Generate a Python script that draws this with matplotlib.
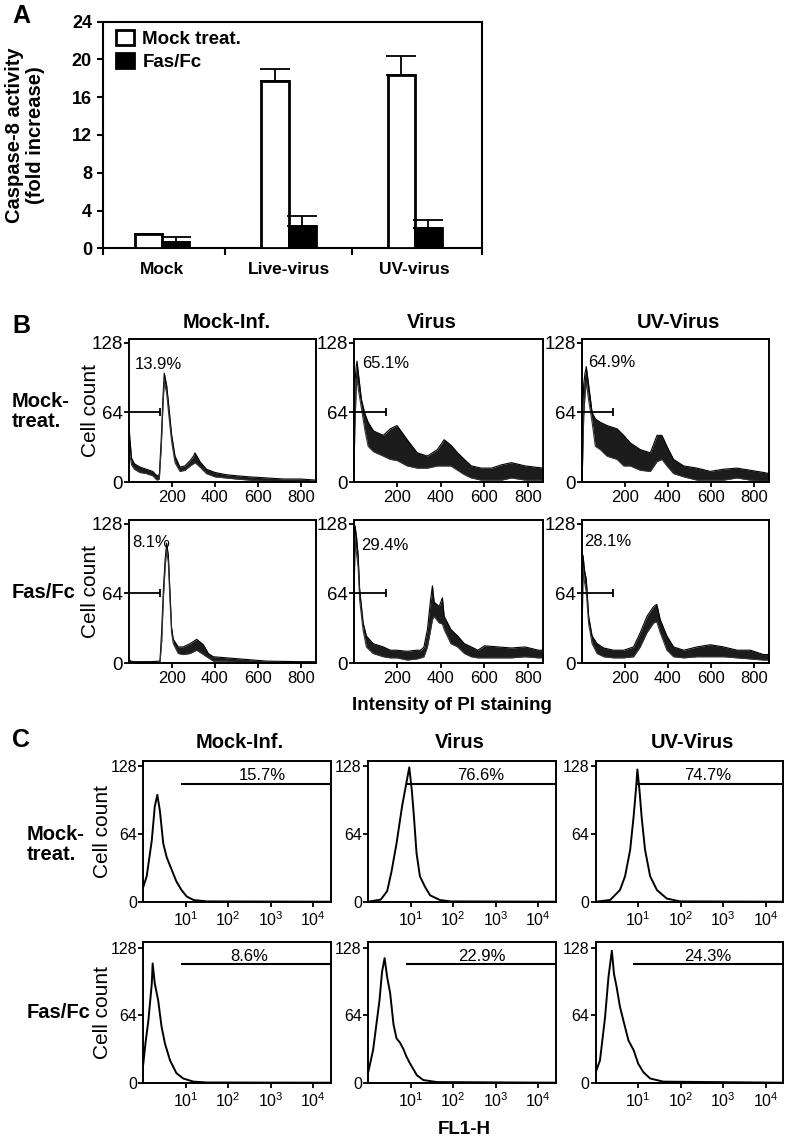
import numpy as np
import matplotlib
matplotlib.use('Agg')
import matplotlib.pyplot as plt
from matplotlib.patches import Patch

plt.rcParams['font.family'] = ['Liberation Sans', 'DejaVu Sans']
plt.rcParams['mathtext.fontset'] = 'custom'
plt.rcParams['mathtext.rm'] = 'Liberation Sans'
plt.rcParams['mathtext.it'] = 'Liberation Sans:italic'
plt.rcParams['mathtext.bf'] = 'Liberation Sans:bold'

W, H = 788, 1139

# ---------------- Panel A data ----------------
a_categories = ['Mock', 'Live-virus', 'UV-virus']
a_series = ['Mock treat.', 'Fas/Fc']
a_mock_treat = [1.48, 17.67, 18.4]
a_mock_treat_err = [0.0, 1.33, 2.0]
a_fasfc = [0.64, 2.33, 2.19]
a_fasfc_err = [0.56, 1.1, 0.81]
a_yticks = [0, 4, 8, 12, 16, 20, 24]
a_ylabel = 'Caspase-8 activity\n(fold increase)'

# ---------------- Panel B data (PI staining histograms) ----------------
b_col_titles = ['Mock-Inf.', 'Virus', 'UV-Virus']
b_row_labels = ['Mock-\ntreat.', 'Fas/Fc']
b_pct = [['13.9%', '65.1%', '64.9%'], ['8.1%', '29.4%', '28.1%']]
b_pct_pos = [[(26, 108), (37, 109), (29, 110)], [(16, 111), (33, 108), (11, 112)]]
b_xticks = [200, 400, 600, 800]
b_yticks = [0, 64, 128]
b_xlabel = 'Intensity of PI staining'

# row 1, Mock-Inf.
b11_x = [0, 4, 12, 25, 50, 80, 110, 130, 141, 150, 158, 164, 175, 185, 198, 214, 237, 260, 285, 300, 307, 330, 360, 400, 450, 500, 560, 640, 720, 800, 870]
b11_hi = [52, 40, 22, 17, 14, 12, 10, 6, 7, 40, 78, 100, 89, 70, 44, 24, 14, 15, 20, 24, 27, 19, 12, 9, 7, 6, 5, 4, 3, 3, 2]
b11_lo = [35, 25, 16, 12, 9, 8, 6, 2, 3, 32, 70, 92, 82, 62, 38, 18, 10, 11, 15, 17, 18, 14, 8, 5, 4, 3, 2, 1, 0.5, 0.5, 0.5]
# row 1, Virus
b12_x = [0, 4, 10, 14, 20, 34, 50, 65, 90, 135, 167, 198, 245, 291, 338, 384, 415, 446, 477, 508, 540, 586, 633, 679, 725, 788, 870]
b12_hi = [40, 90, 106, 111, 100, 76, 63, 55, 47, 43, 49, 52, 39, 27, 24, 30, 39, 34, 27, 21, 15, 13, 13, 16, 18, 15, 13]
b12_lo = [10, 50, 85, 95, 85, 68, 48, 33, 28, 24, 21, 20, 15, 13, 13, 15, 15, 15, 11, 7, 4, 2, 2, 2, 4, 2, 2]
# row 1, UV-Virus
b13_x = [0, 3, 8, 14, 20, 31, 47, 62, 85, 116, 163, 194, 225, 271, 318, 349, 372, 395, 426, 473, 535, 597, 659, 721, 783, 845, 870]
b13_hi = [27, 60, 90, 100, 106, 89, 64, 58, 55, 52, 49, 43, 36, 30, 27, 43, 43, 33, 21, 15, 13, 10, 12, 13, 11, 9, 8]
b13_lo = [0, 20, 60, 80, 92, 75, 55, 33, 30, 24, 21, 15, 15, 11, 10, 19, 21, 15, 8, 5, 2, 2, 2, 4, 2, 1, 1]
# row 2, Mock-Inf.
b21_x = [0, 3, 8, 20, 60, 100, 144, 152, 160, 168, 175, 183, 190, 198, 206, 229, 253, 284, 315, 346, 369, 392, 454, 516, 578, 640, 795, 870]
b21_hi = [6, 3, 2, 1.5, 1.5, 1.5, 2, 30, 68, 95, 110, 99, 68, 33, 22, 15, 15, 18, 22, 17, 9, 6, 5, 4, 3, 2, 1.5, 1.5]
b21_lo = [0, 1, 0.5, 0.5, 0.5, 0.5, 0.5, 20, 60, 88, 104, 92, 60, 28, 18, 9, 8, 9, 12, 8, 5, 2, 2, 1, 1, 0.5, 0.3, 0.3]
# row 2, Virus
b22_x = [0, 5, 12, 19, 26, 42, 57, 88, 135, 167, 197, 245, 290, 307, 322, 338, 353, 361, 369, 392, 407, 415, 446, 477, 508, 540, 570, 601, 664, 725, 787, 849, 870]
b22_hi = [90, 126, 115, 99, 68, 37, 25, 18, 15, 12, 12, 11, 12, 12, 15, 31, 59, 71, 56, 52, 60, 43, 31, 25, 18, 15, 12, 16, 15, 14, 15, 12, 12]
b22_lo = [60, 110, 100, 88, 58, 30, 15, 9, 6, 5, 5, 3, 4, 5, 6, 15, 31, 40, 43, 37, 36, 31, 18, 15, 9, 6, 5, 5, 5, 5, 6, 5, 5]
# row 2, UV-Virus
b23_x = [0, 5, 11, 20, 31, 47, 70, 101, 147, 194, 240, 271, 302, 333, 348, 364, 395, 426, 473, 535, 597, 659, 721, 783, 845, 870]
b23_hi = [60, 99, 86, 77, 43, 25, 18, 14, 12, 12, 15, 28, 43, 52, 54, 40, 25, 15, 12, 15, 17, 15, 12, 12, 8, 8]
b23_lo = [20, 85, 75, 65, 36, 18, 9, 6, 5, 5, 6, 15, 28, 37, 38, 28, 12, 6, 5, 6, 6, 6, 5, 4, 3, 3]

# ---------------- Panel C data (FL1-H histograms, decade exponents) ----------------
c_col_titles = ['Mock-Inf.', 'Virus', 'UV-Virus']
c_row_labels = ['Mock-\ntreat.', 'Fas/Fc']
c_pct = [['15.7%', '76.6%', '74.7%'], ['8.6%', '22.9%', '24.3%']]
c_pct_x = [[617, 447, 437], [316, 468, 437]]
c_gate_start = [[7.7, 7.8, 8.7], [7.7, 7.8, 7.5]]
c_gate_y = [111, 112]
c_xticks = [10, 100, 1000, 10000]
c_xticklabels = ['$\\mathregular{10^{1}}$', '$\\mathregular{10^{2}}$', '$\\mathregular{10^{3}}$', '$\\mathregular{10^{4}}$']
c_yticks = [0, 64, 128]
c_xlabel = 'FL1-H'

c11_lx = [0, 0.08, 0.2, 0.27, 0.33, 0.39, 0.47, 0.55, 0.67, 0.78, 0.9, 1.02, 1.18, 1.49, 4.41]
c11_y = [14, 24, 58, 90, 101, 86, 55, 42, 30, 19, 11, 5, 1.6, 0.3, 0]
c12_lx = [0, 0.3, 0.45, 0.55, 0.67, 0.8, 0.9, 0.97, 1.03, 1.08, 1.14, 1.22, 1.34, 1.46, 1.69, 1.93, 4.41]
c12_y = [0, 2, 10, 28, 55, 90, 112, 127, 105, 80, 46, 24, 14, 6, 1.6, 0.3, 0]
c13_lx = [0, 0.34, 0.57, 0.69, 0.81, 0.89, 0.95, 0.98, 1.03, 1.08, 1.16, 1.28, 1.44, 1.67, 1.98, 4.41]
c13_y = [0, 1.6, 11, 24, 49, 80, 108, 125, 105, 80, 49, 24, 11, 3, 0.3, 0]
c21_lx = [0, 0.05, 0.12, 0.2, 0.22, 0.27, 0.35, 0.43, 0.51, 0.63, 0.78, 0.94, 1.18, 1.5, 4.41]
c21_y = [18, 37, 59, 94, 113, 94, 78, 53, 37, 21, 9, 4, 1, 0.2, 0]
c22_lx = [0, 0.12, 0.27, 0.33, 0.39, 0.45, 0.52, 0.6, 0.67, 0.75, 0.83, 0.9, 0.99, 1.15, 1.3, 1.62, 4.41]
c22_y = [9, 31, 78, 105, 118, 100, 85, 55, 42, 38, 32, 25, 18, 7, 2.5, 0.6, 0]
c23_lx = [0, 0.1, 0.22, 0.3, 0.38, 0.43, 0.49, 0.57, 0.65, 0.77, 0.89, 1.0, 1.12, 1.28, 1.59, 4.41]
c23_y = [10, 21, 62, 100, 125, 103, 91, 72, 59, 40, 31, 18, 10, 4, 1, 0]

# ---------------- figure ----------------
fig = plt.figure(figsize=(W / 100, H / 100), dpi=100)


def px_axes(l, t, r, b):
    return fig.add_axes([l / W, 1 - b / H, (r - l) / W, (b - t) / H])


def ftext(x, y, s, **kw):
    return fig.text(x / W, 1 - y / H, s, **kw)


# ---------- Panel A ----------
axA = px_axes(103, 21.7, 481.7, 248.3)
xc = np.arange(len(a_categories))
bw = 0.215
axA.bar(xc - bw / 2, a_mock_treat, bw, color='white', edgecolor='black', linewidth=2.0,
        yerr=[np.zeros(3), a_mock_treat_err], capsize=11,
        error_kw=dict(elinewidth=1.3, capthick=1.3, ecolor='black'), zorder=3)
axA.bar(xc + bw / 2, a_fasfc, bw, color='black', edgecolor='black', linewidth=2.0,
        yerr=[np.zeros(3), a_fasfc_err], capsize=11,
        error_kw=dict(elinewidth=1.3, capthick=1.3, ecolor='black'), zorder=3)
axA.set_xlim(-0.47, 2.53)
axA.set_ylim(0, 24)
axA.set_yticks(a_yticks)
axA.set_yticklabels([str(v) for v in a_yticks], fontsize=13, fontweight='bold')
axA.set_xticks([-0.47, 0.5, 1.5, 2.53])
axA.set_xticklabels([])
axA.set_xticks(xc, minor=True)
axA.set_xticklabels(a_categories, minor=True, fontsize=12.5, fontweight='bold')
axA.tick_params(axis='x', which='minor', length=0, pad=10)
axA.tick_params(axis='x', which='major', length=5, width=1.5, direction='out')
axA.tick_params(axis='y', length=4.5, width=1.5, direction='out', pad=3.5)
for s in axA.spines.values():
    s.set_linewidth(1.5)
handles = [Patch(facecolor='white', edgecolor='black', linewidth=2.0),
           Patch(facecolor='black', edgecolor='black', linewidth=2.0)]
axA.legend(handles, a_series, loc='upper left', bbox_to_anchor=(0.015, 0.995), frameon=False,
           borderaxespad=0, handlelength=0.95, handleheight=0.85, handletextpad=0.45,
           labelspacing=0.25, prop=dict(size=13.5, weight='bold'))
ftext(25, 135, a_ylabel, rotation=90, ha='center', va='center', fontsize=14.5,
      fontweight='bold', multialignment='center', linespacing=1.15)
ftext(12, 16, 'A', fontsize=18, fontweight='bold', ha='left', va='center')

# ---------- Panel B ----------
b_data = [[(b11_x, b11_lo, b11_hi), (b12_x, b12_lo, b12_hi), (b13_x, b13_lo, b13_hi)],
          [(b21_x, b21_lo, b21_hi), (b22_x, b22_lo, b22_hi), (b23_x, b23_lo, b23_hi)]]
b_cols_px = [(129, 316), (354, 543), (582, 769)]
b_rows_px = [(339.3, 482.3), (520.3, 663.3)]
b_title_x = [227, 432, 678]
for r in range(2):
    for c in range(3):
        l, rr = b_cols_px[c]
        t, b = b_rows_px[r]
        ax = px_axes(l, t, rr, b)
        x, lo, hi = b_data[r][c]
        ax.fill_between(x, lo, hi, color='#1c1c1c', linewidth=0)
        ax.plot(x, hi, color='black', lw=0.8)
        ax.plot(x, lo, color='#333333', lw=0.8)
        ax.set_xlim(0, 870)
        ax.set_ylim(0, 131)
        ax.set_xticks(b_xticks)
        ax.set_xticklabels([str(v) for v in b_xticks], fontsize=12)
        ax.set_yticks(b_yticks)
        ax.set_yticklabels([str(v) for v in b_yticks], fontsize=13.5)
        ax.tick_params(axis='both', length=3.5, width=1.3, direction='out')
        ax.tick_params(axis='y', pad=1)
        ax.tick_params(axis='x', pad=2)
        for s in ax.spines.values():
            s.set_linewidth(1.4)
        ax.plot([0, 145], [64, 64], color='black', lw=1.3, solid_capstyle='butt', clip_on=False)
        ax.plot([145], [64], marker='|', ms=6, mew=1.3, color='black')
        px_, py_ = b_pct_pos[r][c]
        ax.text(px_, py_, b_pct[r][c], fontsize=12, ha='left', va='center')
        if c == 0:
            ftext(90, (t + b) / 2, 'Cell count', rotation=90, ha='center', va='center', fontsize=15)
            ftext(12, (t + b) / 2 + 1, b_row_labels[r], ha='left', va='center', fontsize=14.5,
                  fontweight='bold', linespacing=1.05)
for c in range(3):
    ftext(b_title_x[c], 323, b_col_titles[c], ha='center', va='center', fontsize=14.5, fontweight='bold')
ftext(12, 326.5, 'B', fontsize=18, fontweight='bold', ha='left', va='center')
ftext(452, 706, b_xlabel, ha='center', va='center', fontsize=13.5, fontweight='bold')

# ---------- Panel C ----------
c_data = [[(c11_lx, c11_y), (c12_lx, c12_y), (c13_lx, c13_y)],
          [(c21_lx, c21_y), (c22_lx, c22_y), (c23_lx, c23_y)]]
c_cols_px = [(143.3, 330.7), (368, 555.7), (595.7, 783.3)]
c_rows_px = [(761, 901.7), (942.3, 1082.7)]
c_title_x = [240, 460, 692]
c_xmax = 10 ** 4.41
for r in range(2):
    for c in range(3):
        l, rr = c_cols_px[c]
        t, b = c_rows_px[r]
        ax = px_axes(l, t, rr, b)
        lx, y = c_data[r][c]
        ax.plot(10 ** np.array(lx), y, color='black', lw=1.4)
        ax.set_xscale('log')
        ax.set_xlim(1, c_xmax)
        ax.set_ylim(0, 133)
        ax.set_xticks(c_xticks)
        ax.set_xticklabels(c_xticklabels, fontsize=11.5)
        ax.minorticks_off()
        ax.set_yticks(c_yticks)
        ax.set_yticklabels([str(v) for v in c_yticks], fontsize=11.5)
        ax.tick_params(axis='both', length=3.5, width=1.3, direction='out')
        ax.tick_params(axis='y', pad=1)
        ax.tick_params(axis='x', pad=2.5)
        for s in ax.spines.values():
            s.set_linewidth(1.4)
        gy = c_gate_y[r]
        ax.plot([c_gate_start[r][c], c_xmax], [gy, gy], color='black', lw=1.5, solid_capstyle='butt')
        ax.text(c_pct_x[r][c], gy + 0.8, c_pct[r][c], fontsize=12, ha='center', va='bottom')
        if c == 0:
            ftext(103, (t + b) / 2, 'Cell count', rotation=90, ha='center', va='center', fontsize=15)
            yoff = 13 if r == 0 else 0
            ftext(27, (t + b) / 2 + yoff, c_row_labels[r], ha='left', va='center', fontsize=14.5,
                  fontweight='bold', linespacing=1.05)
for c in range(3):
    ftext(c_title_x[c], 742, c_col_titles[c], ha='center', va='center', fontsize=14.5, fontweight='bold')
ftext(12, 740, 'C', fontsize=18, fontweight='bold', ha='left', va='center')
ftext(464, 1129, c_xlabel, ha='center', va='center', fontsize=13.5, fontweight='bold')

fig.savefig('out.png', dpi=100)
